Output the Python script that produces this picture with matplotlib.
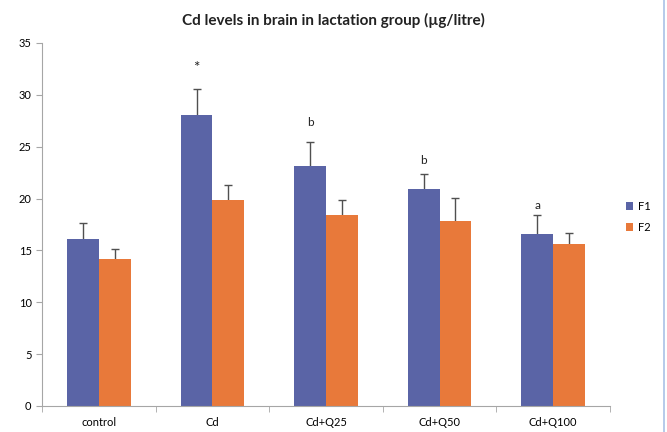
import numpy as np
import matplotlib
matplotlib.use("Agg")
import matplotlib.pyplot as plt  # noqa: E402
from matplotlib.lines import Line2D  # noqa: E402

# Datos (µg/litre)
grupos = ["control", "Cd", "Cd+Q25", "Cd+Q50", "Cd+Q100"]
f1_media = [16.1, 28.1, 23.1, 20.9, 16.6]
f1_error = [1.5, 2.5, 2.4, 1.5, 1.8]
f2_media = [14.2, 19.9, 18.4, 17.8, 15.6]
f2_error = [0.9, 1.4, 1.5, 2.3, 1.1]
marcas_f1 = ["", "*", "b", "b", "a"]
posicion_marcas = [0, 32.6, 27.3, 23.7, 19.3]

AZUL = "#5A64A6"
NARANJA = "#E8793A"
GRIS = "#A6A6A6"

plt.rcParams["font.family"] = ["Lato", "DejaVu Sans"]

fig = plt.figure(figsize=(6.67, 4.32), dpi=100)
ax = fig.add_axes([0.063, 0.0602, 0.8515, 0.8403])

x = np.arange(len(grupos))
ancho = 0.28
ax.bar(x - ancho / 2, f1_media, ancho, color=AZUL, label="F1", zorder=2)
ax.bar(x + ancho / 2, f2_media, ancho, color=NARANJA, label="F2", zorder=2)

# barras de error solo hacia arriba (se oculta el remate inferior)
for xs, medias, errores in [(x - ancho / 2, f1_media, f1_error),
                            (x + ancho / 2, f2_media, f2_error)]:
    _, remates, _ = ax.errorbar(xs, medias, yerr=[np.zeros(5), errores],
                                fmt="none", ecolor="#505050", elinewidth=1,
                                capsize=3, capthick=1, zorder=1)
    remates[0].set_visible(False)

for xi, m, y in zip(x, marcas_f1, posicion_marcas):
    if m:
        tam = 11 if m == "*" else 8.5
        ax.text(xi - ancho / 2, y, m, ha="center", va="center", fontsize=tam,
                color="#222222")

ax.set_xlim(-0.5, len(grupos) - 0.5)
ax.set_ylim(0, 35)
ax.set_yticks(range(0, 36, 5))
ax.set_xticks(x)
ax.set_xticklabels(grupos)
ax.set_xticks(np.arange(-0.5, len(grupos), 1), minor=True)
ax.tick_params(axis="x", which="major", length=0, pad=8, labelsize=8)
ax.tick_params(axis="x", which="minor", length=4, color=GRIS)
ax.tick_params(axis="y", length=4, color=GRIS, labelsize=8)

for lado in ["top", "right"]:
    ax.spines[lado].set_visible(False)
ax.spines["left"].set_color(GRIS)
ax.spines["bottom"].set_color(GRIS)

fig.text(0.5, 0.953, "Cd levels in brain in lactation group (µg/litre)",
         ha="center", va="center", fontsize=11, fontweight="bold",
         color="#222222")

ax.legend(loc="center left", bbox_to_anchor=(1.01, 0.52), frameon=False,
          fontsize=8, handlelength=0.7, handleheight=0.7, handletextpad=0.4,
          labelspacing=0.9)

# borde azul claro del marco de la imagen
fig.add_artist(Line2D([664 / 667, 664 / 667], [0, 1], color="#A9C1E6", lw=1.2,
                      transform=fig.transFigure))

fig.savefig("out.png", dpi=100)
